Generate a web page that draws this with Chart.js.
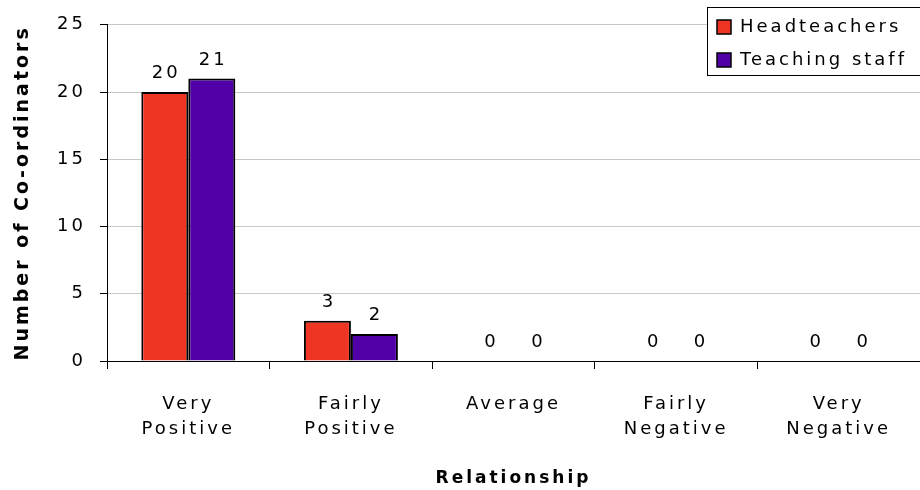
<!DOCTYPE html>
<html>
<head>
<meta charset="utf-8">
<script src="https://cdn.jsdelivr.net/npm/chart.js@4/dist/chart.umd.min.js"></script>
<style>
  html, body { margin: 0; padding: 0; background: #fff; }
  #wrap { width: 920px; height: 490px; position: relative; }
</style>
</head>
<body>
<div id="wrap"><canvas id="c" width="920" height="490"></canvas></div>
<script>
// Co-ordinators' relationship ratings with headteachers and teaching staff
const categories = [["Very", "Positive"], ["Fairly", "Positive"], ["Average"], ["Fairly", "Negative"], ["Very", "Negative"]];
const headteachers = [20, 3, 0, 0, 0];
const teachingStaff = [21, 2, 0, 0, 0];
const seriesNames = ["Headteachers", "Teaching staff"];
const yTicks = [0, 5, 10, 15, 20, 25];

const FONT = "'DejaVu Sans', Verdana, sans-serif";
const RED = "#ee3524";
const PURPLE = "#5000a6";
const SPACING = "3px";

// wide letter spacing for every piece of text on the canvas
const spacedText = {
  id: "spacedText",
  beforeUpdate(chart) { chart.ctx.letterSpacing = SPACING; },
  beforeDraw(chart) { chart.ctx.letterSpacing = SPACING; }
};

// value printed above every bar, zeros included
const valueLabels = {
  id: "valueLabels",
  afterDatasetsDraw(chart) {
    const ctx = chart.ctx;
    ctx.save();
    ctx.letterSpacing = SPACING;
    ctx.font = "18px " + FONT;
    ctx.fillStyle = "#000";
    ctx.textAlign = "center";
    ctx.textBaseline = "alphabetic";
    chart.data.datasets.forEach((ds, i) => {
      chart.getDatasetMeta(i).data.forEach((bar, j) => {
        ctx.fillText(String(ds.data[j]), bar.x + 1.5, bar.y - 14);
      });
    });
    ctx.restore();
  }
};

// boxed legend in the top-right corner
const boxLegend = {
  id: "boxLegend",
  afterDraw(chart) {
    const ctx = chart.ctx;
    const left = 707, top = 7, rowH = 33, w = 230;
    const h = 68;
    ctx.save();
    ctx.letterSpacing = SPACING;
    ctx.fillStyle = "#fff";
    ctx.fillRect(left, top, w, h);
    ctx.strokeStyle = "#000";
    ctx.lineWidth = 1;
    ctx.strokeRect(left + 0.5, top + 0.5, w, h);
    ctx.font = "18px " + FONT;
    ctx.textBaseline = "middle";
    ctx.textAlign = "left";
    chart.data.datasets.forEach((ds, i) => {
      const cy = top + 20 + i * rowH;
      ctx.fillStyle = ds.backgroundColor;
      ctx.fillRect(left + 10, cy - 7, 14, 14);
      ctx.strokeStyle = "#000";
      ctx.lineWidth = 1.5;
      ctx.strokeRect(left + 10, cy - 7, 14, 14);
      ctx.fillStyle = "#000";
      ctx.fillText(ds.label, left + 33, cy);
    });
    ctx.restore();
  }
};

new Chart(document.getElementById("c"), {
  type: "bar",
  data: {
    labels: categories,
    datasets: [
      { label: seriesNames[0], data: headteachers, backgroundColor: RED, borderColor: "#000", borderWidth: 2, categoryPercentage: 0.578, barPercentage: 1.0 },
      { label: seriesNames[1], data: teachingStaff, backgroundColor: PURPLE, borderColor: "#000", borderWidth: 2, categoryPercentage: 0.578, barPercentage: 1.0 }
    ]
  },
  options: {
    responsive: false,
    animation: false,
    layout: { padding: { top: 23, right: 0, left: 0, bottom: 0 } },
    plugins: { legend: { display: false }, tooltip: { enabled: false } },
    scales: {
      x: {
        offset: true,
        grid: { offset: true, drawOnChartArea: false, color: "#000", tickLength: 8, lineWidth: 1 },
        border: { color: "#000", width: 1 },
        ticks: { color: "#000", font: { family: FONT, size: 18, lineHeight: 1.4 }, padding: 23, maxRotation: 0 },
        title: { display: true, text: "Relationship", color: "#000", font: { family: FONT, size: 17, weight: "bold" }, padding: { top: 10, bottom: 1 } },
        afterFit(scale) { scale.height = 129; }
      },
      y: {
        min: 0, max: 25,
        afterBuildTicks(scale) { scale.ticks = yTicks.map(v => ({ value: v })); },
        grid: { color: (c) => c.tick && c.tick.value === 0 ? "#000" : "#c8c8c8", tickColor: "#000", tickLength: 7, lineWidth: 1 },
        border: { color: "#000", width: 1 },
        ticks: { color: "#000", font: { family: FONT, size: 18 }, padding: 14 },
        title: { display: true, text: "Number of Co-ordinators", color: "#000", font: { family: FONT, size: 19, weight: "bold" }, padding: { top: 12, bottom: 0 } },
        afterFit(scale) { scale.width = 107; }
      }
    }
  },
  plugins: [spacedText, valueLabels, boxLegend]
});
</script>
</body>
</html>
